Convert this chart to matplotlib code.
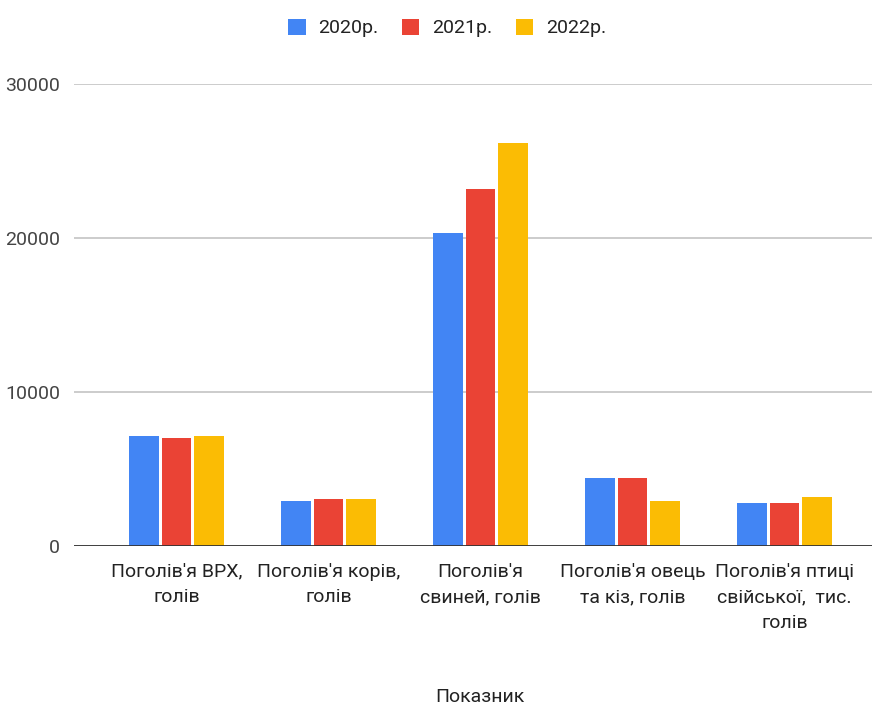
import matplotlib
matplotlib.use("Agg")
import matplotlib.pyplot as plt
import numpy as np

# дані
kategorii = ["Поголів'я ВРХ,\nголів", "Поголів'я корів,\nголів", "Поголів'я\nсвиней, голів",
             "Поголів'я овець\nта кіз, голів", "Поголів'я птиці\nсвійської,  тис.\nголів"]
roky = ["2020р.", "2021р.", "2022р."]
v2020 = [7150, 2940, 20320, 4440, 2790]
v2021 = [6990, 3070, 23180, 4440, 2790]
v2022 = [7150, 3050, 26170, 2940, 3200]
kolory = ["#4285F4", "#EA4335", "#FBBC04"]
yticks = [0, 10000, 20000, 30000]

plt.rcParams['font.family'] = ["Roboto", "Liberation Sans", "DejaVu Sans"]
fs = 14

fig = plt.figure(figsize=(8.72, 7.08), dpi=100)
ax = fig.add_axes([74/872, 1-546/708, 1-74/872, (546-84)/708])

x = np.arange(len(kategorii))
w = 0.194
zsuv = 0.214
for i, (vals, rik) in enumerate(zip([v2020, v2021, v2022], roky)):
    ax.bar(x + (i-1)*zsuv, vals, width=w, color=kolory[i], label=rik, zorder=3)

ax.set_xlim(-0.674, 4.576)
ax.set_ylim(0, 30000)
ax.set_yticks(yticks)
ax.set_yticklabels([str(t) for t in yticks], fontsize=fs, color="#444444")
ax.set_xticks(x)
ax.set_xticklabels(kategorii, fontsize=fs, color="#222222", linespacing=1.55)
ax.tick_params(axis='both', length=0)
ax.tick_params(axis='y', pad=10)
ax.tick_params(axis='x', pad=12)

ax.grid(axis='y', color="#cccccc", linewidth=1.4, zorder=0)
for s in ax.spines.values():
    s.set_visible(False)
ax.axhline(0, color="#333333", linewidth=2, zorder=4)

fig.text(480/872, 1-697/708, "Показник", ha='center', va='center', fontsize=fs, color="#222222")

fig.legend(loc='center', bbox_to_anchor=(447/872, 1-28/708), ncol=3, frameon=False,
           fontsize=fs, handlelength=0.9, handleheight=0.9, handletextpad=0.65,
           columnspacing=1.2, labelcolor="#222222")

fig.savefig("out.png", dpi=100)
